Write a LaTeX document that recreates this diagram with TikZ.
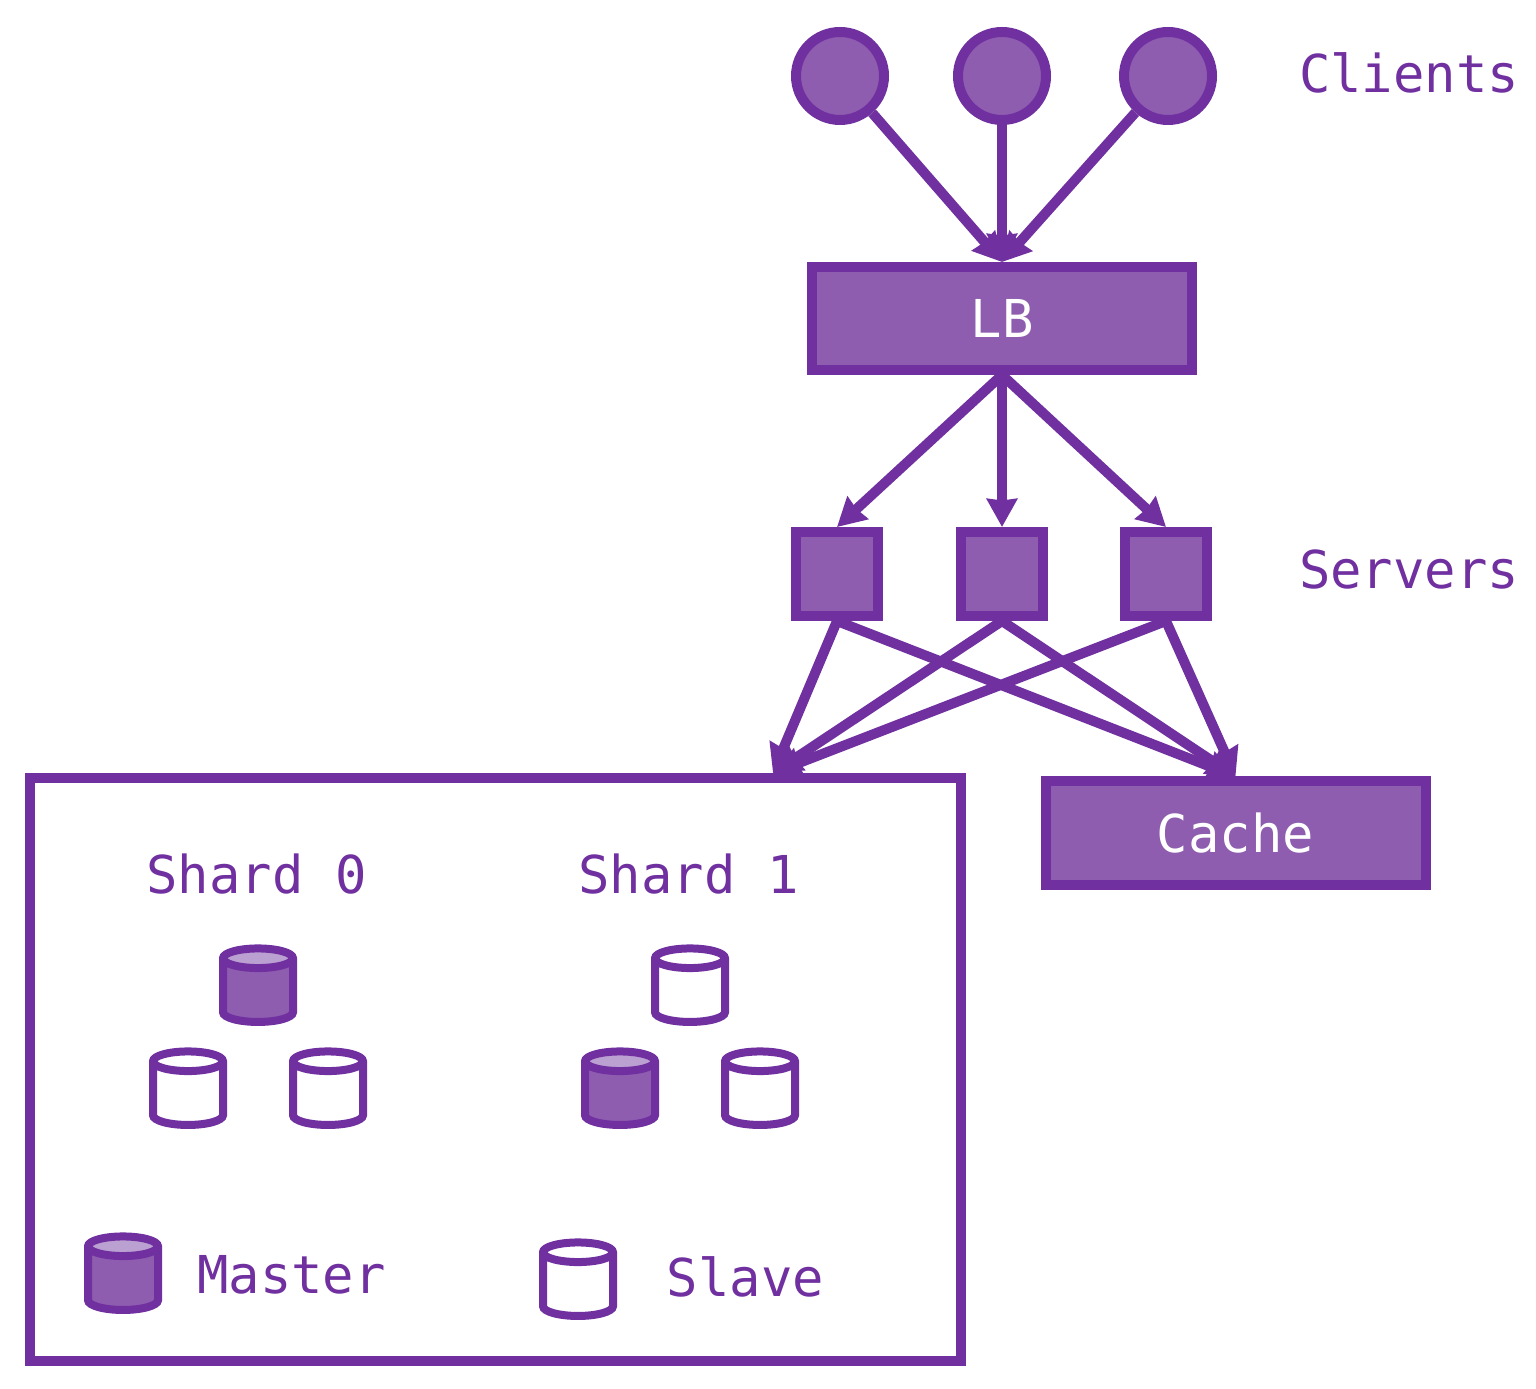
\documentclass[tikz,border=0pt]{standalone}
\usepackage{fontspec}
\setmonofont{DejaVu Sans Mono}
\usetikzlibrary{shapes.geometric}
\usetikzlibrary{arrows.meta}
\definecolor{linepurple}{HTML}{7030A0}
\definecolor{fillpurple}{HTML}{8E5DAF}
\definecolor{toppurple}{HTML}{BBA0D2}
\tikzset{
	label text/.style={font=\ttfamily\fontsize{29.7}{33}\selectfont, text=linepurple},
	box text/.style={font=\ttfamily\fontsize{29.7}{33}\selectfont, text=white},
	client/.style={circle, draw=linepurple, fill=fillpurple, line width=0.2cm, minimum size=1.76cm, inner sep=0},
	server/.style={rectangle, draw=linepurple, fill=fillpurple, line width=0.2cm, minimum width=1.64cm, minimum height=1.68cm, inner sep=0},
	wide box/.style={rectangle, draw=linepurple, fill=fillpurple, line width=0.2cm, minimum width=7.6cm, minimum height=2.06cm, inner sep=0},
	shard box/.style={rectangle, draw=linepurple, fill=white, line width=0.2cm, minimum width=18.62cm, minimum height=11.66cm, inner sep=0},
	db/.style={cylinder, shape border rotate=90, draw=linepurple, line width=0.16cm, minimum width=1.4cm, minimum height=1.47cm, aspect=0.28, inner xsep=0.7cm, inner ysep=0},
	slave db/.style={db, fill=white},
	master db/.style={db, cylinder uses custom fill, cylinder body fill=fillpurple, cylinder end fill=toppurple},
	link/.style={->, draw=linepurple, line width=0.2cm, >={Stealth[length=0.56cm,width=0.6cm,inset=0.03cm]}}
}
\begin{document}
\begin{tikzpicture}
	\useasboundingbox (0,0) rectangle (30.72,27.76);

	\node[client] (client0) at (16.8,26.24) {};
	\node[client] (client1) at (20.04,26.24) {};
	\node[client] (client2) at (23.36,26.24) {};
	\node[label text] (clientsname) at (28.18,26.3) {Clients};

	\node[wide box, box text] (lb) at (20.04,21.39) {LB};

	\node[server] (server0) at (16.74,16.28) {};
	\node[server] (server1) at (20.04,16.28) {};
	\node[server] (server2) at (23.32,16.28) {};
	\node[label text] (serversname) at (28.18,16.36) {Servers};

	\node[wide box, box text] (cache) at (24.71,11.1) {Cache};
	\node[shard box] (shards) at (9.91,6.37) {};

	\coordinate (shardsin) at (15.46,12.3);

	% shard 0
	\node[label text] (shard0name) at (5.13,10.28) {Shard 0};
	\node[master db] (db00) at (5.16,7.82) {};
	\node[slave db] (db01) at (3.76,5.76) {};
	\node[slave db] (db02) at (6.56,5.76) {};

	% shard 1
	\node[label text] (shard1name) at (13.77,10.28) {Shard 1};
	\node[slave db] (db10) at (13.8,7.82) {};
	\node[master db] (db11) at (12.4,5.76) {};
	\node[slave db] (db12) at (15.2,5.76) {};

	% legend
	\node[master db] (masterdb) at (2.46,2.06) {};
	\node[label text] (mastername) at (5.83,2.26) {Master};
	\node[slave db] (slavedb) at (11.56,1.94) {};
	\node[label text] (slavename) at (14.91,2.22) {Slave};

	\foreach \i in {0,1,2} {
		\draw[link] (client\i) -- (lb.north);
		\draw[link] (lb.south) -- (server\i.north);
		\draw[link] (server\i.south) -- (shardsin);
		\draw[link] (server\i.south) -- (cache.north);
	}
\end{tikzpicture}
\end{document}
